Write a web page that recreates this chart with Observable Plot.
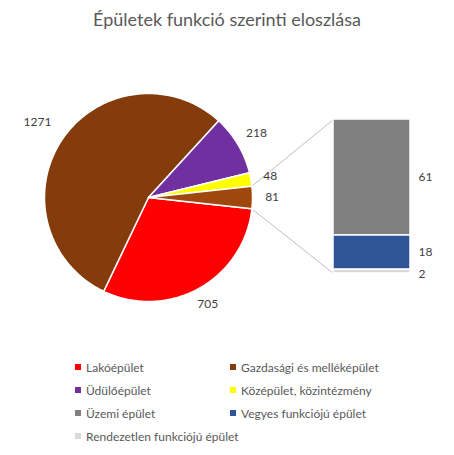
<!DOCTYPE html>
<html><head><meta charset="utf-8">
<script src="https://cdn.jsdelivr.net/npm/d3@7"></script>
<script src="https://cdn.jsdelivr.net/npm/@observablehq/plot@0.6"></script>
<style>
body{margin:0;background:#fff;font-family:Lato,"Open Sans",sans-serif;}
#wrap{width:454px;height:455px;position:relative;overflow:hidden;background:#fff}
#title{height:40px;box-sizing:border-box;padding-top:8px;text-align:center;font-size:18px;color:#595959;line-height:22px;white-space:nowrap}
#chart svg{display:block}
#legend{position:relative;height:115px;font-size:12px;color:#595959}
.li{position:absolute;display:flex;align-items:center;white-space:nowrap;height:16px}
.sw{width:6px;height:6px;margin-right:5px;display:inline-block}
</style></head>
<body>
<div id="wrap">
  <div id="title">Épületek funkció szerinti eloszlása</div>
  <div id="chart"></div>
  <div id="legend"></div>
</div>
<script>
// ---- data ----
const pieCategories = ["Lakóépület", "Gazdasági és melléképület", "Üdülőépület", "Középület, közintézmény"];
const pieValues = [705, 1271, 218, 48];
const pieColors = ["#FF0000", "#843C0C", "#7030A0", "#FFFF00"];
const barCategories = ["Üzemi épület", "Vegyes funkciójú épület", "Rendezetlen funkciójú épület"];
const barValues = [61, 18, 2];
const barColors = ["#808080", "#2F5597", "#D9D9D9"];
const otherLabel = "Egyéb";
const otherColor = "#9E480E";

// ---- layout ----
const W = 454, H = 300;
const cx = 148, cy = 157, R = 104;
const barX1 = 333, barX2 = 410, barTop = 79, barBottom = 233;

const otherValue = d3.sum(barValues);
const slicesData = pieCategories.map((c, i) => ({name: c, value: pieValues[i], color: pieColors[i]}))
  .concat([{name: otherLabel, value: otherValue, color: otherColor}]);
const total = d3.sum(slicesData, d => d.value);
const otherSpan = otherValue / total * 2 * Math.PI;
const start = Math.PI / 2 + otherSpan / 2;
const arcs = d3.pie().sort(null).value(d => d.value).startAngle(start).endAngle(start + 2 * Math.PI)(slicesData);

const px = a => cx + R * Math.sin(a);
const py = a => cy - R * Math.cos(a);

const polyPts = [];
arcs.forEach(a => {
  polyPts.push({name: a.data.name, x: cx, y: cy});
  const n = Math.max(2, Math.ceil((a.endAngle - a.startAngle) / (Math.PI / 180)));
  for (let k = 0; k <= n; k++) {
    const t = a.startAngle + (a.endAngle - a.startAngle) * k / n;
    polyPts.push({name: a.data.name, x: px(t), y: py(t)});
  }
});

// labels for pie slices
const pieLabels = arcs.map(a => {
  const m = (a.startAngle + a.endAngle) / 2;
  const s = Math.sin(m), c = Math.cos(m);
  const halfW = String(a.data.value).length * 3.3;
  const d = R + 13 + halfW * Math.abs(s) + (a.data.value > 1000 ? 6 : 0);
  return {x: cx + d * s, y: cy - d * c, text: String(a.data.value)};
});

// bar segments
const k = (barBottom - barTop) / otherValue;
let acc = 0;
const segs = [];
for (let i = barValues.length - 1; i >= 0; i--) {
  const y2 = barBottom - acc * k;
  acc += barValues[i];
  const y1 = barBottom - acc * k;
  segs.unshift({name: barCategories[i], value: barValues[i], color: barColors[i], y1, y2});
}
const barLabels = segs.map((s, i) => ({x: barX2 + 8, y: i === segs.length - 1 ? s.y2 + 1 : (s.y1 + s.y2) / 2, text: String(s.value)}));

const otherArc = arcs[arcs.length - 1];
const links = [
  {x1: px(otherArc.startAngle), y1: py(otherArc.startAngle), x2: barX1, y2: barTop},
  {x1: px(otherArc.endAngle), y1: py(otherArc.endAngle), x2: barX1, y2: barBottom}
];

const colorDomain = slicesData.map(d => d.name).concat(barCategories);
const colorRange = slicesData.map(d => d.color).concat(barColors);

const chart = Plot.plot({
  width: W, height: H, margin: 0,
  style: {fontFamily: "Lato, 'Open Sans', sans-serif", background: "#fff"},
  x: {domain: [0, W], range: [0, W], axis: null},
  y: {domain: [0, H], range: [0, H], axis: null},
  color: {domain: colorDomain, range: colorRange},
  marks: [
    Plot.link(links, {x1: "x1", y1: "y1", x2: "x2", y2: "y2", stroke: "#BFBFBF", strokeWidth: 1}),
    Plot.line(polyPts, {x: "x", y: "y", z: "name", fill: "name", stroke: "white", strokeWidth: 1.5, curve: "linear-closed", strokeLinejoin: "round"}),
    Plot.rect(segs, {x1: () => barX1, x2: () => barX2, y1: "y1", y2: "y2", fill: "name", stroke: "white", strokeWidth: 1.5}),
    Plot.text(pieLabels, {x: "x", y: "y", text: "text", fontSize: 12, fill: "#404040", textAnchor: "middle"}),
    Plot.text(barLabels, {x: "x", y: "y", text: "text", fontSize: 12, fill: "#404040", textAnchor: "start"})
  ]
});
document.getElementById("chart").appendChild(chart);

// legend
const legendItems = pieCategories.map((c, i) => ({name: c, color: pieColors[i]}))
  .concat(barCategories.map((c, i) => ({name: c, color: barColors[i]})));
const lg = document.getElementById("legend");
legendItems.forEach((it, i) => {
  const col = i % 2, row = Math.floor(i / 2);
  const el = document.createElement("div");
  el.className = "li";
  el.style.left = (col === 0 ? 75 : 230) + "px";
  el.style.top = (19 + row * 23) + "px";
  el.innerHTML = `<span class="sw" style="background:${it.color}"></span><span></span>`;
  el.lastChild.textContent = it.name;
  lg.appendChild(el);
});
</script>
</body></html>
